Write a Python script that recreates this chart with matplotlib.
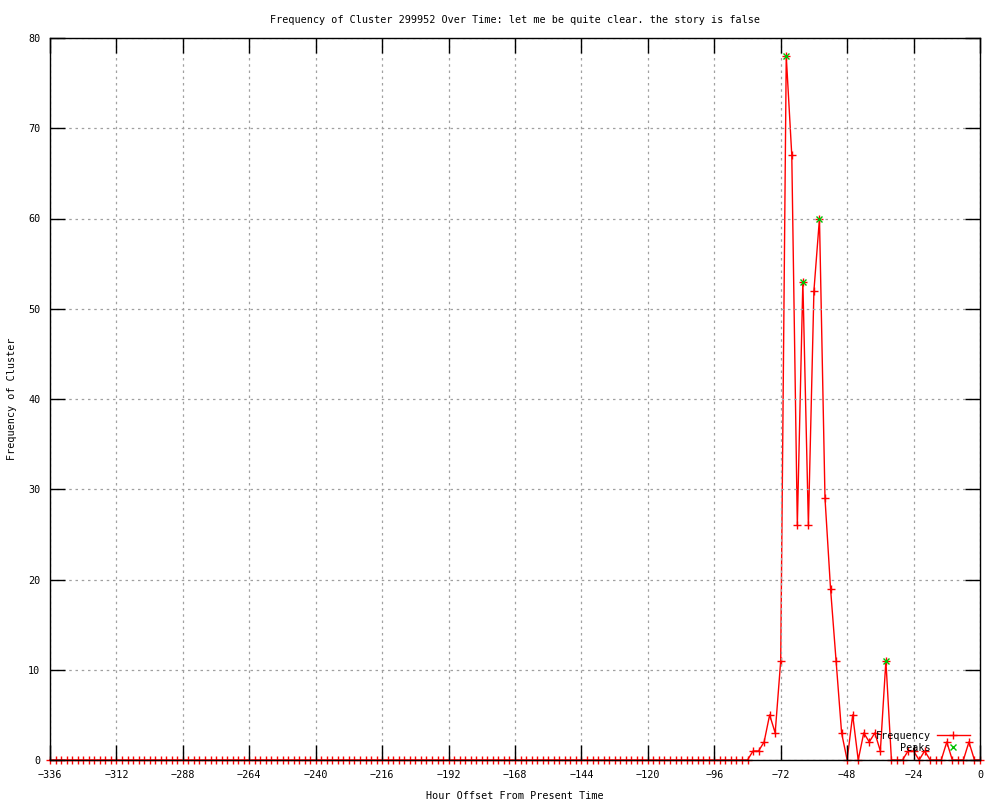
import numpy as np
import matplotlib
matplotlib.use("Agg")
from matplotlib import pyplot as plt

# horas (cada 2 h) y frecuencia
horas = list(range(-336, 1, 2))
frecuencia = [0] * 127 + [
    1, 1, 2, 5, 3, 11,
    78, 67, 26, 53, 26, 52,
    60, 29, 19, 11, 3, 0,
    5, 0, 3, 2, 3, 1,
    11, 0, 0, 0, 1, 1,
    0, 1, 0, 0, 0, 2,
    0, 0, 0, 2, 0, 0,
]

# picos marcados en verde
picos_x = [-70, -64, -58, -34]
picos_y = [78, 53, 60, 11]

titulo = "Frequency of Cluster 299952 Over Time: let me be quite clear. the story is false"
xticks = list(range(-336, 1, 24))
yticks = list(range(0, 81, 10))

plt.rcParams['font.family'] = ['DejaVu Sans Mono']
fs = 7.3

fig = plt.figure(figsize=(10, 8), dpi=100)
ax = fig.add_axes([0.05, 0.05, 0.93, 0.9025])

ax.plot(horas, frecuencia, color='red', lw=1.0, marker='+', ms=6, mew=1.0,
        label='Frequency', clip_on=False, zorder=2)
ax.plot(picos_x, picos_y, ls='none', marker='x', ms=5, mew=1.0,
        color='#00c000', label='Peaks', zorder=3)

ax.set_xlim(-336, 0)
ax.set_ylim(0, 80)
ax.set_xticks(xticks)
ax.set_yticks(yticks)
ax.set_xticklabels([str(t).replace('-', '\u2212') for t in xticks], fontsize=fs)
ax.set_yticklabels([str(t) for t in yticks], fontsize=fs)
ax.tick_params(direction='in', length=11, width=1, top=True, right=True,
               pad=7, colors='black')
ax.grid(True, color='#a0a0a0', ls=(0, (2, 3)), lw=0.9)
ax.set_axisbelow(False)
for s in ax.spines.values():
    s.set_linewidth(1)
    s.set_zorder(4)

ax.set_title(titulo, fontsize=fs, pad=11)
ax.set_xlabel('Hour Offset From Present Time', fontsize=fs, labelpad=8)
ax.set_ylabel('Frequency of Cluster', fontsize=fs, labelpad=8)

ax.legend(loc='lower right', frameon=False, markerfirst=False, fontsize=fs,
          handlelength=3.3, handletextpad=0.6, labelspacing=0.2,
          borderaxespad=0.3, bbox_to_anchor=(0.997, 0.0))

fig.savefig('out.png', dpi=100)
